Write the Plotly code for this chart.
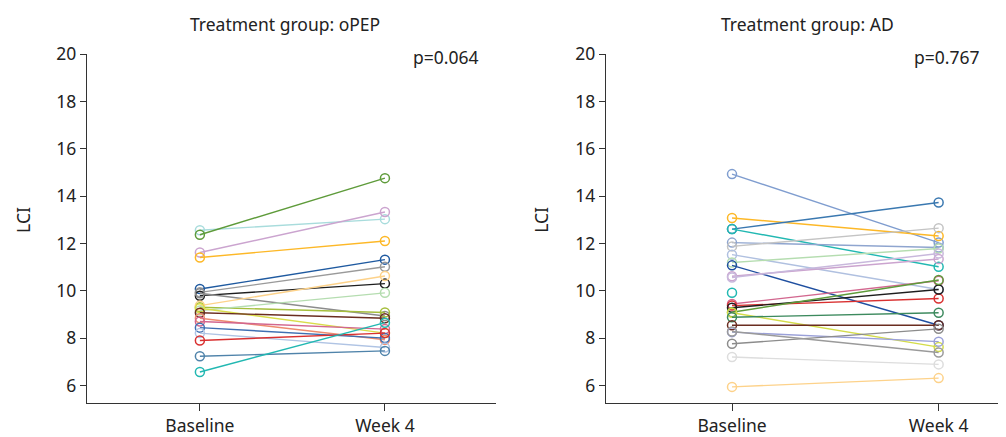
import plotly.graph_objects as go

# ---- data ----
time_labels = ["Baseline", "Week 4"]

opep_baseline = [12.56, 12.37, 11.62, 11.41, 10.08, 9.94, 9.80, 9.90, 9.31, 9.38,
                 9.17, 9.27, 9.08, 8.85, 8.71, 8.45, 8.22, 7.91, 7.24, 6.58]
opep_week4 = [13.03, 14.76, 13.33, 12.11, 11.32, 11.02, 10.31, 8.94, 9.09, 10.63,
              9.92, 8.22, 8.85, 7.94, 8.39, 8.01, 7.61, 8.22, 7.47, 8.66]
opep_colors = ["#A8DCDC", "#5E9B3A", "#CBA4CF", "#FDB827", "#1F5AA0", "#9A9A9A",
               "#1E1E1E", "#8C8C8C", "#A5BE3C", "#FDD28A", "#B5DDB0", "#D9DD4A",
               "#6A2D20", "#EE8B6E", "#D2678F", "#3F6FB2", "#B0C4E4", "#D93030",
               "#4F83AA", "#22B8B2"]

ad_baseline = [14.93, 13.08, 12.61, 12.61, 12.04, 11.88, 11.53, 11.20, 11.08, 10.62,
               10.57, 9.92, 9.45, 9.38, 9.29, 9.10, 9.08, 8.89, 8.55, 8.26,
               7.77, 8.29, 7.21, 5.95]
ad_week4 = [12.04, 12.32, 13.73, 11.02, 11.83, 12.65, 10.06, 11.79, 8.55, 11.35,
            11.58, None, 10.43, 9.68, 10.06, 10.46, 7.63, 9.08, 8.55, 7.86,
            8.40, 7.40, 6.90, 6.32]
ad_colors = ["#7F9DCF", "#FDB827", "#3A78B0", "#22B8B2", "#8FA5CF", "#C4C4C4",
             "#B0C0E0", "#B5DDB0", "#1F4FA0", "#CBA4CF", "#C8B8DC", "#22B8B2",
             "#D2678F", "#D93030", "#1E1E1E", "#5E9B3A", "#D4DC4A", "#3D8A5E",
             "#6A2D20", "#9AA0D8", "#8C8C8C", "#9A9A9A", "#DDDDDD", "#FDD28A"]

p_values = ["p=0.064", "p=0.767"]
titles = ["Treatment group: oPEP", "Treatment group: AD"]
y_ticks = [6, 8, 10, 12, 14, 16, 18, 20]

FONT = "Noto Sans"
FS = 17.5
fig = go.Figure()

def add_group(base, wk, cols, xa, ya):
    for b, w, c in zip(base, wk, cols):
        xs = [0, 1] if w is not None else [0]
        ys = [b, w] if w is not None else [b]
        fig.add_trace(go.Scatter(
            x=xs, y=ys, mode="lines+markers", xaxis=xa, yaxis=ya,
            line=dict(color=c, width=1.4),
            marker=dict(symbol="circle-open", size=9, color=c, line=dict(width=1.5, color=c)),
            showlegend=False, hoverinfo="skip"))

add_group(opep_baseline, opep_week4, opep_colors, "x", "y")
add_group(ad_baseline, ad_week4, ad_colors, "x2", "y2")

axis_common = dict(showgrid=False, zeroline=False, showline=True, linecolor="#333333",
                   linewidth=1.3, ticks="outside", tickcolor="#333333", tickwidth=1.3,
                   tickfont=dict(family=FONT, size=FS, color="#222222"))

xcommon = dict(axis_common, tickvals=[0, 1], ticktext=time_labels, ticklen=7)
ycommon = dict(axis_common, tickvals=y_ticks, range=[5.27, 20.0], ticklen=6)

# page body has an 8px margin: the figure is sized to fill the rest of the window
fig.update_layout(
    width=998, height=429,
    margin=dict(l=79, r=0, t=46, b=27),
    paper_bgcolor="white", plot_bgcolor="white",
    xaxis=dict(xcommon, domain=[0, 0.445], range=[-0.61, 1.6], anchor="y"),
    yaxis=dict(ycommon, domain=[0, 1], anchor="x"),
    xaxis2=dict(xcommon, domain=[0.5647, 1.0], range=[-0.61, 1.326], anchor="y2"),
    yaxis2=dict(ycommon, domain=[0, 1], anchor="x2"),
)

ann_font = dict(family=FONT, size=FS, color="#222222")
annotations = [
    dict(text=titles[0], x=0.2155, y=1.085, xref="paper", yref="paper",
         xanchor="center", yanchor="middle", showarrow=False, font=ann_font),
    dict(text=titles[1], x=0.7837, y=1.085, xref="paper", yref="paper",
         xanchor="center", yanchor="middle", showarrow=False, font=ann_font),
    dict(text=p_values[0], x=0.4288, y=0.992, xref="paper", yref="paper",
         xanchor="right", yanchor="middle", showarrow=False, font=ann_font),
    dict(text=p_values[1], x=0.974, y=0.992, xref="paper", yref="paper",
         xanchor="right", yanchor="middle", showarrow=False, font=ann_font),
    dict(text="LCI", x=-0.0695, y=0.525, xref="paper", yref="paper", textangle=-90,
         xanchor="center", yanchor="middle", showarrow=False, font=ann_font),
    dict(text="LCI", x=0.494, y=0.525, xref="paper", yref="paper", textangle=-90,
         xanchor="center", yanchor="middle", showarrow=False, font=ann_font),
]
fig.update_layout(annotations=annotations)

fig.write_html("out.html")
